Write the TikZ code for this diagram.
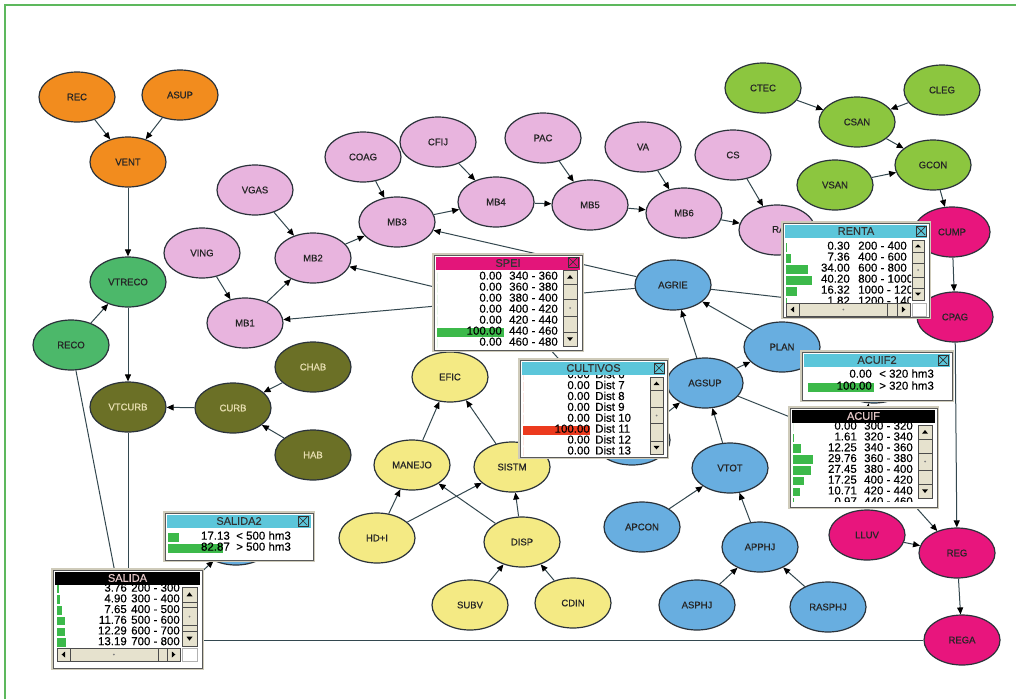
\documentclass[tikz,border=0pt]{standalone}
\usepackage{fontspec}
\setmainfont{Liberation Sans}
\newfontfamily\nodefont{Liberation Sans}[FakeBold=0.8]
\newfontfamily\winfont{Liberation Sans}[FakeBold=0.4]
\usetikzlibrary{shapes.geometric,arrows.meta}

\definecolor{orangeN}{HTML}{F28C1E}
\definecolor{pinkN}{HTML}{E8B4DE}
\definecolor{limeN}{HTML}{8CC63F}
\definecolor{greenN}{HTML}{4CB86A}
\definecolor{oliveN}{HTML}{6B7026}
\definecolor{oliveTxt}{HTML}{E6DEB0}
\definecolor{magN}{HTML}{E8157D}
\definecolor{blueN}{HTML}{68AEE0}
\definecolor{yellowN}{HTML}{F4EA84}
\definecolor{edgeC}{HTML}{33474F}
\definecolor{outlineC}{HTML}{2A323A}
\definecolor{frameG}{HTML}{5DB85D}
\definecolor{titleCyan}{HTML}{5CC6DA}
\definecolor{titleMag}{HTML}{E3157A}
\definecolor{barG}{HTML}{3CB94A}
\definecolor{barR}{HTML}{EC3A1E}
\definecolor{sbFill}{HTML}{E6E2CE}
\definecolor{rimC}{HTML}{CFCBBA}
\definecolor{darkTitleTxt}{HTML}{E6C8C8}

\tikzset{
  bn/.style={ellipse, draw=outlineC, line width=1.2pt, minimum width=76pt,
    minimum height=50pt, inner sep=0pt, text=black!85,
    font=\nodefont\fontsize{9.5}{10}\selectfont},
  orangeNode/.style={bn, fill=orangeN},
  pinkNode/.style={bn, fill=pinkN},
  limeNode/.style={bn, fill=limeN},
  greenNode/.style={bn, fill=greenN},
  oliveNode/.style={bn, fill=oliveN, text=oliveTxt},
  magNode/.style={bn, fill=magN},
  blueNode/.style={bn, fill=blueN},
  yellowNode/.style={bn, fill=yellowN},
  edge/.style={draw=edgeC, line width=1pt,
    -{Triangle[length=7pt,width=6pt,color=black]}},
  lbl/.style={inner sep=0pt, text=black!85, font=\nodefont\fontsize{9.5}{10}\selectfont},
  val/.style={anchor=mid east, inner sep=0pt, font=\winfont\fontsize{11.5}{12}\selectfont},
  rng/.style={anchor=mid west, inner sep=0pt, font=\winfont\fontsize{11.5}{12}\selectfont},
  wintitle/.style={inner sep=0pt, font=\winfont\fontsize{11}{12}\selectfont},
  winrim/.style={draw=rimC, line width=4pt},
  winbody/.style={fill=white, draw=gray!70!black, line width=0.8pt},
  sb/.style={fill=sbFill, draw=gray!60!black, line width=0.6pt},
  closeb/.style={draw=black!80, line width=0.7pt},
}

% monitor window frame: name, x0, y0, x1, y1, title fill, title text colour, title
\newcommand{\winframe}[8]{%
  \draw[winrim] (#2,#3) rectangle (#4,#5);
  \filldraw[winbody] (#2,#3) rectangle (#4,#5);
  \fill[#6] (#2+2,#3+2) rectangle (#4-2,#3+15);
  \node[wintitle, text=#7] (#1-title) at ({(#2+#4)/2},#3+8) {#8};
}
% close box centred at x, y
\newcommand{\closebox}[2]{%
  \draw[closeb] (#1-5,#2-5) rectangle (#1+5,#2+5);
  \draw[closeb] (#1-4,#2-4) -- (#1+4,#2+4) (#1-4,#2+4) -- (#1+4,#2-4);
}
% vertical scroll bar: x0, y0, x1, y1
\newcommand{\vscroll}[4]{%
  \pgfmathsetmacro{\sbw}{#3-#1}%
  \pgfmathsetmacro{\sbm}{(#2+#4)/2}%
  \pgfmathsetmacro{\sbx}{(#1+#3)/2}%
  \filldraw[sb] (#1,#2) rectangle (#3,#4);
  \draw[sb] (#1,#2) rectangle (#3,#2+\sbw);
  \draw[sb] (#1,#4-\sbw) rectangle (#3,#4);
  \draw[sb] (#1,\sbm-\sbw*0.6) rectangle (#3,\sbm+\sbw*0.6);
  \fill[black] (\sbx-3,#2+\sbw*0.62) -- (\sbx+3,#2+\sbw*0.62) -- (\sbx,#2+\sbw*0.36) -- cycle;
  \fill[black] (\sbx-3,#4-\sbw*0.62) -- (\sbx+3,#4-\sbw*0.62) -- (\sbx,#4-\sbw*0.36) -- cycle;
  \fill[gray] (\sbx,\sbm) circle (1pt);
}
% horizontal scroll bar: x0, y0, x1, y1
\newcommand{\hscroll}[4]{%
  \pgfmathsetmacro{\sbh}{#4-#2}%
  \pgfmathsetmacro{\sbc}{(#2+#4)/2}%
  \pgfmathsetmacro{\sbt}{#1+(#3-#1)*0.82}%
  \filldraw[sb] (#1,#2) rectangle (#3,#4);
  \draw[sb] (#1,#2) rectangle (#1+\sbh,#4);
  \draw[sb] (#3-\sbh,#2) rectangle (#3,#4);
  \draw[sb] (#1+\sbh,#2) rectangle (\sbt,#4);
  \fill[black] (#1+\sbh*0.62,\sbc-3) -- (#1+\sbh*0.62,\sbc+3) -- (#1+\sbh*0.36,\sbc) -- cycle;
  \fill[black] (#3-\sbh*0.62,\sbc-3) -- (#3-\sbh*0.62,\sbc+3) -- (#3-\sbh*0.36,\sbc) -- cycle;
  \fill[gray] ({(#1+\sbh+\sbt)/2},\sbc) circle (1pt);
}

\begin{document}
\begin{tikzpicture}[x=1pt,y=-1pt]
\useasboundingbox (0,0) rectangle (1016,699);
\fill[white] (0,0) rectangle (1016,699);
\draw[frameG, line width=1.5pt] (5,699) -- (5,5) -- (1016,5);

% ---------- nodes ----------
\node[orangeNode] (rec)   at (77,97)  {REC};
\node[orangeNode] (asup)  at (180,95) {ASUP};
\node[orangeNode] (vent)  at (128,162) {VENT};
\node[greenNode]  (vtreco) at (128,282) {VTRECO};
\node[greenNode]  (reco)  at (71,345) {RECO};
\node[oliveNode]  (vtcurb) at (128,407) {VTCURB};
\node[oliveNode]  (curb)  at (233,408) {CURB};
\node[oliveNode]  (chab)  at (313,367) {CHAB};
\node[oliveNode]  (hab)   at (313,455) {HAB};

\node[pinkNode] (vgas) at (255,190) {VGAS};
\node[pinkNode] (ving) at (202,253) {VING};
\node[pinkNode] (mb2)  at (313,258) {MB2};
\node[pinkNode] (mb1)  at (245,323) {MB1};
\node[pinkNode] (coag) at (363,157) {COAG};
\node[pinkNode] (mb3)  at (397,222) {MB3};
\node[pinkNode] (cfij) at (438,142) {CFIJ};
\node[pinkNode] (mb4)  at (496,202) {MB4};
\node[pinkNode] (pac)  at (543,138) {PAC};
\node[pinkNode] (mb5)  at (590,205) {MB5};
\node[pinkNode] (va)   at (643,147) {VA};
\node[pinkNode] (mb6)  at (684,213) {MB6};
\node[pinkNode] (cs)   at (733,155) {CS};
\node[pinkNode] (ra)   at (777,230) {};
\node[lbl, anchor=mid west] (ra-text) at (772,230) {RA};

\node[limeNode] (ctec) at (763,88)  {CTEC};
\node[limeNode] (cleg) at (942,90)  {CLEG};
\node[limeNode] (csan) at (857,122) {CSAN};
\node[limeNode] (gcon) at (933,165) {GCON};
\node[limeNode] (vsan) at (835,185) {VSAN};

\node[magNode] (cump) at (952,232) {CUMP};
\node[magNode] (cpag) at (955,317) {CPAG};
\node[magNode] (lluv) at (867,535) {LLUV};
\node[magNode] (reg)  at (957,553) {REG};
\node[magNode] (rega) at (962,640) {REGA};

\node[blueNode] (agrie)  at (673,285) {AGRIE};
\node[blueNode] (plan)   at (782,347) {PLAN};
\node[blueNode] (agsup)  at (705,383) {AGSUP};
\node[blueNode] (vtot)   at (730,468) {VTOT};
\node[blueNode] (apcon)  at (642,527) {APCON};
\node[blueNode] (apphj)  at (760,547) {APPHJ};
\node[blueNode] (asphj)  at (697,605) {ASPHJ};
\node[blueNode] (rasphj) at (828,607) {RASPHJ};

\node[yellowNode] (efic)   at (450,377) {EFIC};
\node[yellowNode] (manejo) at (412,465) {MANEJO};
\node[yellowNode] (sistm)  at (512,467) {SISTM};
\node[yellowNode] (hdi)    at (377,538) {HD+I};
\node[yellowNode] (disp)   at (522,542) {DISP};
\node[yellowNode] (subv)   at (470,605) {SUBV};
\node[yellowNode] (cdin)   at (573,603) {CDIN};

% nodes that sit beneath their monitor windows
\node[blueNode] (spei)      at (510,305) {};
\node[blueNode] (cult)      at (632,440) {};
\node[blueNode] (acuif)     at (860,445) {};
\node[blueNode] (acuiftwo)  at (874,378) {};
\node[blueNode] (salida)    at (128,640) {};
\node[blueNode] (salidatwo) at (236,540) {};

% ---------- links ----------
\draw[edge] (rec) -- (vent);
\draw[edge] (asup) -- (vent);
\draw[edge] (vent) -- (vtreco);
\draw[edge] (reco) -- (vtreco);
\draw[edge] (vtreco) -- (vtcurb);
\draw[edge] (curb) -- (vtcurb);
\draw[edge] (chab) -- (curb);
\draw[edge] (hab) -- (curb);
\draw[edge] (reco) -- (salida);
\draw[edge] (vtcurb) -- (salida);
\draw[edge] (rega) -- (salida);
\draw[edge] (salida) -- (salidatwo);

\draw[edge] (vgas) -- (mb2);
\draw[edge] (ving) -- (mb1);
\draw[edge] (mb1) -- (mb2);
\draw[edge] (mb2) -- (mb3);
\draw[edge] (coag) -- (mb3);
\draw[edge] (mb3) -- (mb4);
\draw[edge] (cfij) -- (mb4);
\draw[edge] (mb4) -- (mb5);
\draw[edge] (pac) -- (mb5);
\draw[edge] (mb5) -- (mb6);
\draw[edge] (va) -- (mb6);
\draw[edge] (mb6) -- (ra);
\draw[edge] (cs) -- (ra);

\draw[edge] (agrie) -- (mb3);
\draw[edge] (agrie) -- (mb1);
\draw[edge] (spei) -- (mb2);
\draw[edge] (cult) -- (spei);
\draw[edge] (cult) -- (agsup);
\draw[edge] (agsup) -- (agrie);
\draw[edge] (plan) -- (agrie);
\draw[edge] (agsup) -- (plan);
\draw[edge] (vtot) -- (agsup);
\draw[edge] (apcon) -- (vtot);
\draw[edge] (apphj) -- (vtot);
\draw[edge] (asphj) -- (apphj);
\draw[edge] (rasphj) -- (apphj);
\draw[edge] (agsup) -- (acuif);
\draw[edge] (acuif) -- (acuiftwo);
\draw[edge] (acuif) -- (reg);
\draw[edge] (agrie) -- (cpag);

\draw[edge] (ctec) -- (csan);
\draw[edge] (cleg) -- (csan);
\draw[edge] (csan) -- (gcon);
\draw[edge] (vsan) -- (gcon);
\draw[edge] (gcon) -- (cump);
\draw[edge] (cump) -- (cpag);
\draw[edge] (cpag) -- (reg);
\draw[edge] (lluv) -- (reg);
\draw[edge] (reg) -- (rega);

\draw[edge] (manejo) -- (efic);
\draw[edge] (sistm) -- (efic);
\draw[edge] (hdi) -- (manejo);
\draw[edge] (hdi) -- (sistm);
\draw[edge] (disp) -- (manejo);
\draw[edge] (disp) -- (sistm);
\draw[edge] (subv) -- (disp);
\draw[edge] (cdin) -- (disp);

% ---------- monitor windows ----------
% SPEI
\winframe{speiw}{434}{255}{582}{350}{titleMag}{black!80}{SPEI}
\closebox{573}{262}
\begin{scope}
  \clip (436,270) rectangle (562,348);
  \foreach \v/\r [count=\i from 0] in {0.00/340 - 360,0.00/360 - 380,0.00/380 - 400,0.00/400 - 420,0.00/420 - 440,100.00/440 - 460,0.00/460 - 480}{
    \fill[barG] (437,277+11*\i-4.5) rectangle (437+0.67*\v,277+11*\i+4.5);
    \node[val] (speiw-v\i) at (502,277+11*\i) {\v};
    \node[rng] (speiw-r\i) at (509,277+11*\i) {\r};
  }
\end{scope}
\vscroll{563}{270}{577}{346}

% RENTA
\winframe{rentaw}{783}{223}{929}{317}{titleCyan}{black!80}{RENTA}
\closebox{921}{231}
\begin{scope}
  \clip (785,239) rectangle (911,302);
  \foreach \v/\r [count=\i from 0] in {0.30/200 - 400,7.36/400 - 600,34.00/600 - 800,40.20/800 - 1000,16.32/1000 - 1200,1.82/1200 - 1400}{
    \fill[barG] (786,247+11*\i-4.5) rectangle (786+0.65*\v,247+11*\i+4.5);
    \node[val] (rentaw-v\i) at (850,247+11*\i) {\v};
    \node[rng] (rentaw-r\i) at (858,247+11*\i) {\r};
  }
\end{scope}
\vscroll{912}{240}{924}{300}
\hscroll{786}{303}{910}{316}
\filldraw[fill=white, draw=gray!60] (912,303) rectangle (926,316);

% ACUIF2
\winframe{acuiftwow}{802}{352}{952}{400}{titleCyan}{black!80}{ACUIF2}
\closebox{943}{360}
\fill[barG] (808,382.5) rectangle (874,392);
\node[val] (acuiftwow-v0) at (872,375) {0.00};
\node[rng] (acuiftwow-r0) at (879,375) {< 320 hm3};
\node[val] (acuiftwow-v1) at (872,387) {100.00};
\node[rng] (acuiftwow-r1) at (879,387) {> 320 hm3};

% ACUIF
\winframe{acuifw}{790}{408}{937}{507}{black}{darkTitleTxt}{ACUIF}
\begin{scope}
  \clip (792,423) rectangle (916,501);
  \foreach \v/\r [count=\i from 0] in {0.00/300 - 320,1.61/320 - 340,12.25/340 - 360,29.76/360 - 380,27.45/380 - 400,17.25/400 - 420,10.71/420 - 440,0.97/440 - 460}{
    \fill[barG] (793,427+10.8*\i-4.3) rectangle (793+0.66*\v,427+10.8*\i+4.3);
    \node[val] (acuifw-v\i) at (857,427+10.8*\i) {\v};
    \node[rng] (acuifw-r\i) at (864,427+10.8*\i) {\r};
  }
\end{scope}
\vscroll{918}{425}{932}{498}

% CULTIVOS
\winframe{cultw}{520}{360}{667}{457}{titleCyan}{black!80}{CULTIVOS}
\closebox{659}{368}
\begin{scope}
  \clip (522,375) rectangle (648,455);
  \foreach \v/\r [count=\i from 0] in {0.00/Dist 6,0.00/Dist 7,0.00/Dist 8,0.00/Dist 9,0.00/Dist 10,100.00/Dist 11,0.00/Dist 12,0.00/Dist 13}{
    \fill[barR] (523,375.5+10.9*\i-4.5) rectangle (523+0.67*\v,375.5+10.9*\i+4.5);
    \node[val] (cultw-v\i) at (590,375.5+10.9*\i) {\v};
    \node[rng] (cultw-r\i) at (595,375.5+10.9*\i) {\r};
  }
\end{scope}
\vscroll{650}{377}{663}{454}

% SALIDA2
\winframe{salidatwow}{165}{513}{313}{560}{titleCyan}{black!80}{SALIDA2}
\closebox{303}{521}
\fill[barG] (168,532.5) rectangle (179.3,541.5);
\fill[barG] (168,543.5) rectangle (222.7,552.5);
\node[val] (salidatwow-v0) at (230,537) {17.13};
\node[rng] (salidatwow-r0) at (236,537) {< 500 hm3};
\node[val] (salidatwow-v1) at (230,548) {82.87};
\node[rng] (salidatwow-r1) at (236,548) {> 500 hm3};

% SALIDA
\winframe{salidaw}{53}{570}{202}{668}{black}{darkTitleTxt}{SALIDA}
\begin{scope}
  \clip (55,585) rectangle (181,647);
  \foreach \v/\r [count=\i from 0] in {3.76/200 - 300,4.90/300 - 400,7.65/400 - 500,11.76/500 - 600,12.29/600 - 700,13.19/700 - 800}{
    \fill[barG] (57,589+10.7*\i-4.3) rectangle (57+0.66*\v,589+10.7*\i+4.3);
    \node[val] (salidaw-v\i) at (127,589+10.7*\i) {\v};
    \node[rng] (salidaw-r\i) at (131,589+10.7*\i) {\r};
  }
\end{scope}
\vscroll{182}{587}{197}{646}
\hscroll{57}{648}{180}{661}
\filldraw[fill=white, draw=gray!60] (182,648) rectangle (197,661);
\end{tikzpicture}
\end{document}
